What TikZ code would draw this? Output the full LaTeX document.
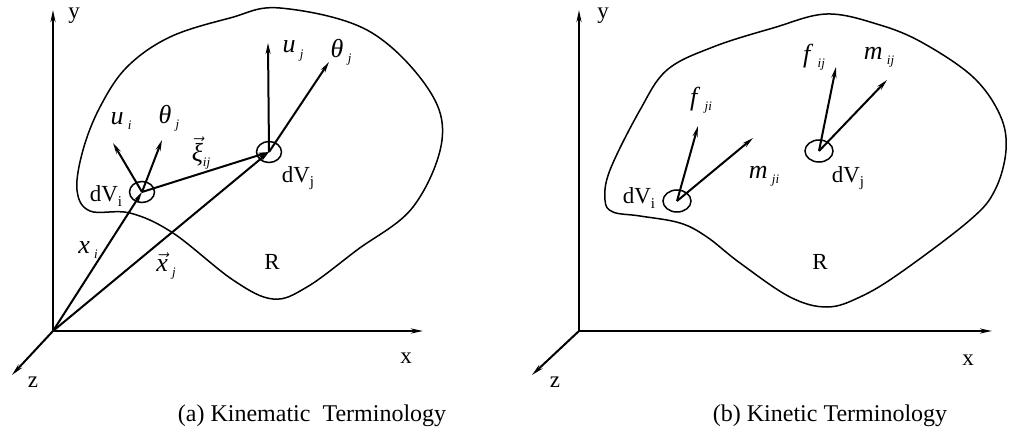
\documentclass[tikz,border=0pt]{standalone}
\usepackage{fontspec}
\setmainfont{Liberation Serif}
\usetikzlibrary{arrows.meta,shapes.geometric}
\newcommand{\sym}[2]{\textit{#1}\,\raisebox{-0.45ex}{\fontsize{13}{13}\selectfont\textit{#2}}}
\newcommand{\dvol}[1]{dV\raisebox{-0.45ex}{\fontsize{15}{15}\selectfont #1}}

\begin{document}
\begin{tikzpicture}[x=1pt, y=-1pt,
    axis/.style={line width=2pt, -{Stealth[length=12pt,width=5pt]}},
    vec/.style={line width=2pt, -{Stealth[length=11pt,width=5pt]}},
    region/.style={line width=1.5pt},
    elem/.style={draw, ellipse, line width=1.5pt, minimum width=25pt, minimum height=21pt, inner sep=0pt},
    lbl/.style={font=\fontsize{23}{27}\selectfont, inner sep=0pt},
    sym/.style={font=\fontsize{26}{30}\selectfont, inner sep=0pt},
    caption/.style={font=\fontsize{24}{28}\selectfont, inner sep=0pt}]
\useasboundingbox (0,0) rectangle (1009,436);

% (a) Kinematic terminology
\coordinate (Oa) at (53,331);
\coordinate (yTipA) at (53,10);
\coordinate (xTipA) at (423,331);
\coordinate (zTipA) at (12,375);
\draw[axis] (Oa) -- (yTipA);
\draw[axis] (Oa) -- (xTipA);
\draw[axis] (Oa) -- (zTipA);
\node[lbl] (yA) at (74,16) {y};
\node[lbl] (xA) at (406,358) {x};
\node[lbl] (zA) at (33,382) {z};

\draw[region] plot[smooth cycle, tension=0.6] coordinates {
    (280,8) (367,30) (427,87) (442,140) (413,207) (357,250) (307,287)
    (273,299) (233,280) (173,233) (130,213) (90,211) (77,190) (83,150)
    (100,107) (127,67) (170,37) (230,18)};

\node[elem] (dViA) at (142,192) {};
\node[elem] (dVjA) at (269,152) {};
\node[lbl] (dViLblA) at (106,196) {\dvol{i}};
\node[lbl] (dVjLblA) at (298,178) {\dvol{j}};
\node[lbl] (RA) at (272,262) {R};

\coordinate (uiTip) at (113,143);
\coordinate (thiTip) at (162,140);
\coordinate (ujTip) at (268,43);
\coordinate (thjTip) at (329,62);
\draw[vec] (Oa) -- (dViA.center);
\draw[vec] (Oa) -- (dVjA.center);
\draw[vec] (dViA.center) -- (dVjA.center);
\draw[vec] (dViA.center) -- (uiTip);
\draw[vec] (dViA.center) -- (thiTip);
\draw[vec] (dVjA.center) -- (ujTip);
\draw[vec] (dVjA.center) -- (thjTip);

\node[sym] (uiLbl) at (121,121) {\sym{u}{i}};
\node[sym] (thiLbl) at (169,118) {\sym{θ}{j}};
\node[sym] (xiLbl) at (201,153) {$\vec{\mbox{\itshape ξ}}$\raisebox{-0.45ex}{\fontsize{13}{13}\selectfont\textit{ij}}};
\node[sym] (ujLbl) at (293,51) {\sym{u}{j}};
\node[sym] (thjLbl) at (341,52) {\sym{θ}{j}};
\node[sym] (xiPos) at (88,250) {\sym{x}{i}};
\node[sym] (xjPos) at (166,266) {$\vec{\mbox{\itshape x}}$\,\raisebox{-0.45ex}{\fontsize{13}{13}\selectfont\textit{j}}};

\node[caption] (capA) at (312,416) {(a) Kinematic\ \ Terminology};

% (b) Kinetic terminology
\coordinate (Ob) at (579,331);
\coordinate (yTipB) at (579,10);
\coordinate (xTipB) at (992,331);
\coordinate (zTipB) at (532,375);
\draw[axis] (Ob) -- (yTipB);
\draw[axis] (Ob) -- (xTipB);
\draw[axis] (Ob) -- (zTipB);
\node[lbl] (yB) at (603,16) {y};
\node[lbl] (xB) at (968,360) {x};
\node[lbl] (zB) at (555,382) {z};

\draw[region] plot[smooth cycle, tension=0.6] coordinates {
    (827,14) (880,25) (923,43) (973,77) (1000,115) (1006,150) (995,190)
    (970,220) (900,273) (860,297) (827,307) (790,297) (740,263) (707,237)
    (680,223) (640,216) (613,212) (605,200) (610,170) (640,110) (667,70)
    (713,47) (773,28)};

\node[elem, minimum width=28pt, minimum height=22pt] (dViB) at (677,201) {};
\node[elem, minimum width=28pt, minimum height=22pt] (dVjB) at (819,151) {};
\node[lbl] (dViLblB) at (639,198) {\dvol{i}};
\node[lbl] (dVjLblB) at (848,178) {\dvol{j}};
\node[lbl] (RB) at (820,262) {R};

\coordinate (fjiTip) at (698,126);
\coordinate (mjiTip) at (753,138);
\coordinate (fijTip) at (836,67);
\coordinate (mijTip) at (887,80);
\draw[vec] (dViB.center) -- (fjiTip);
\draw[vec] (dViB.center) -- (mjiTip);
\draw[vec] (dVjB.center) -- (fijTip);
\draw[vec] (dVjB.center) -- (mijTip);

\node[sym] (fjiLbl) at (701,100) {\sym{f}{ji}};
\node[sym] (mjiLbl) at (764,176) {\sym{m}{ji}};
\node[sym] (fijLbl) at (814,57) {\sym{f}{ij}};
\node[sym] (mijLbl) at (879,57) {\sym{m}{ij}};

\node[caption] (capB) at (830,416) {(b) Kinetic Terminology};
\end{tikzpicture}
\end{document}
